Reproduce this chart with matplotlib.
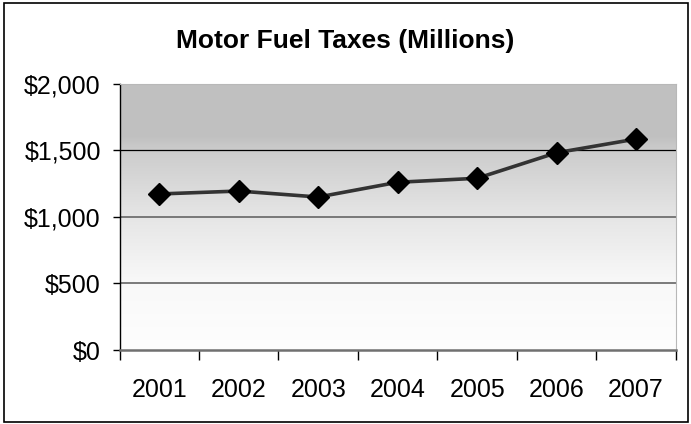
import numpy as np
import matplotlib.pyplot as plt
from matplotlib.patches import Rectangle

plt.rcParams['font.family'] = ['Liberation Sans', 'DejaVu Sans']

years = ['2001', '2002', '2003', '2004', '2005', '2006', '2007']
taxes = [1173, 1195, 1150, 1261, 1291, 1483, 1586]
y_ticks = [0, 500, 1000, 1500, 2000]
y_labels = ['$0', '$500', '$1,000', '$1,500', '$2,000']

fig = plt.figure(figsize=(6.91, 4.24), dpi=100)
ax = fig.add_axes([0.173, 0.1745, 0.805, 0.6275])

n = len(years)
ax.set_xlim(0, n)
ax.set_ylim(0, 2000)

# grey-to-white vertical gradient behind the data
levels = np.linspace(0, 1, 256)
shade = np.interp(levels, [0, 0.25, 0.5, 0.75, 0.8, 1.0], [0.995, 0.975, 0.90, 0.80, 0.755, 0.755])
img = np.repeat(np.stack([shade, shade, shade], axis=-1)[:, None, :], 2, axis=1)
ax.imshow(img, extent=[0, n, 0, 2000], origin='lower', aspect='auto', zorder=0)

# horizontal gridlines
ax.axhline(1500, color='black', lw=0.9, zorder=1)
for v in (500, 1000):
    ax.axhline(v, color='#707070', lw=1.3, zorder=1)

x = np.arange(n) + 0.5
ax.plot(x, taxes, color='#333333', lw=2.6, zorder=2)
ax.plot(x, taxes, ls='none', marker='D', ms=11, color='black', zorder=3)

for side in ('top', 'right'):
    ax.spines[side].set_color('#b8b8b8')
    ax.spines[side].set_linewidth(0.8)
ax.spines['left'].set_color('black')
ax.spines['left'].set_linewidth(1.0)
ax.spines['bottom'].set_color('#707070')
ax.spines['bottom'].set_linewidth(1.8)

ax.set_yticks(y_ticks)
ax.set_yticklabels(y_labels, fontsize=18)
ax.tick_params(axis='y', length=5, width=1, color='black', pad=8.5)

# tick marks at category boundaries, labels at category centres
ax.set_xticks(np.arange(n + 1))
ax.set_xticklabels([])
ax.tick_params(axis='x', which='major', length=7, width=1, color='black')
ax.set_xticks(x, minor=True)
ax.set_xticklabels(years, minor=True, fontsize=18)
ax.tick_params(axis='x', which='minor', length=0, pad=20)

fig.text(0.5, 0.886, 'Motor Fuel Taxes (Millions)', ha='center', va='baseline',
         fontsize=19, fontweight='bold')

fig.patches.append(Rectangle((4 / 691, 2 / 424), 684 / 691, 419 / 424, transform=fig.transFigure,
                             fill=False, edgecolor='black', lw=1.2))

fig.savefig('out.png', dpi=100)
